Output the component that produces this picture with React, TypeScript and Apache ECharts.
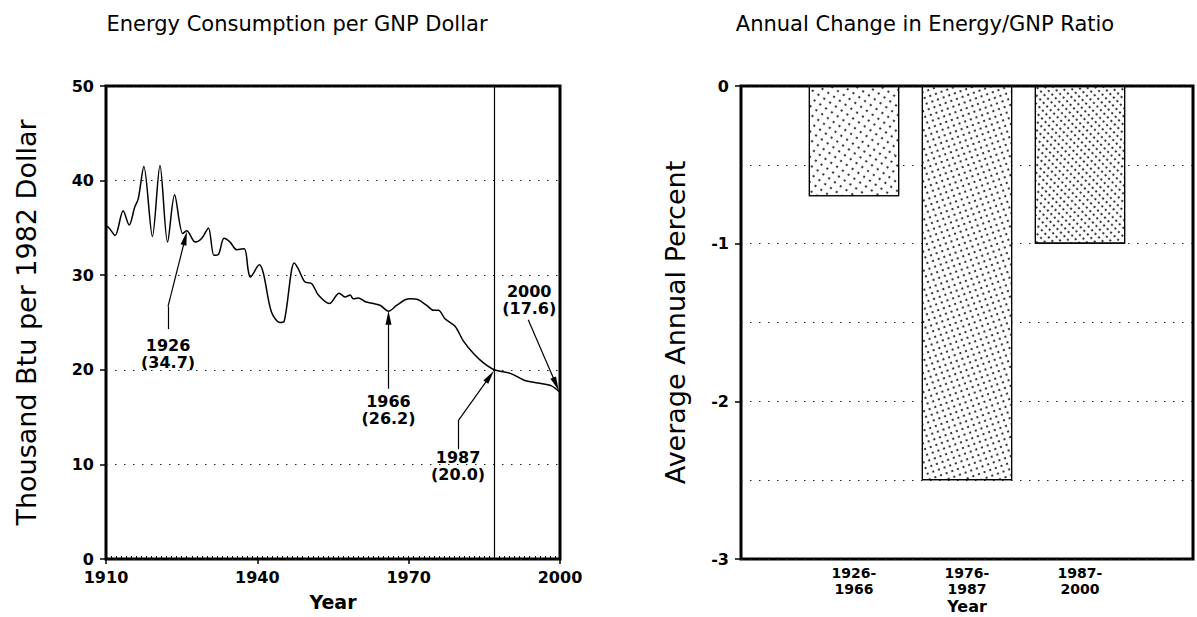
import React, { useEffect, useRef } from "react";
import * as echarts from "echarts";

// ---- Data ----
const years = [
  1910, 1910.6, 1911.8, 1913.4, 1914.6, 1915.7, 1916.4, 1917.5, 1919.2, 1920.7,
  1922.2, 1923.6, 1925.2, 1926, 1927.7, 1929, 1930.3, 1931.4, 1932.3, 1933.4,
  1934.6, 1935.9, 1937.4, 1938.2, 1938.6, 1940.4, 1941.2, 1942.8, 1944.5, 1945.3,
  1947.3, 1948.1, 1949.4, 1950.8, 1952.1, 1954.3, 1956.2, 1957.4, 1958.4, 1959,
  1960, 1961.4, 1963, 1964.4, 1966, 1967.6, 1969.3, 1970.3, 1971.9, 1973.6,
  1974.9, 1975.9, 1977.2, 1979.2, 1980.9, 1982.9, 1984.9, 1987, 1990.3, 1992.9,
  1995.6, 1998.3, 2000,
];
const energyPerGnp = [
  35.2, 35.0, 34.2, 36.8, 35.3, 37.2, 38.1, 41.5, 34.1, 41.6,
  33.5, 38.5, 34.4, 34.7, 33.5, 33.9, 35.0, 32.1, 32.2, 33.9,
  33.5, 32.7, 32.8, 30.5, 29.8, 31.1, 30.2, 26.1, 25.0, 25.1,
  31.3, 30.7, 29.3, 29.1, 27.9, 27.0, 28.1, 27.7, 27.9, 27.5,
  27.6, 27.2, 27.0, 26.8, 26.2, 26.8, 27.4, 27.5, 27.4, 26.8,
  26.3, 26.3, 25.4, 24.6, 23.0, 21.7, 20.7, 20.0, 19.6, 18.9,
  18.6, 18.3, 17.6,
];
const leftXTicks = [1910, 1940, 1970, 2000];
const leftYTicks = [0, 10, 20, 30, 40, 50];

const periods = ["1926-\n1966", "1976-\n1987", "1987-\n2000"];
const annualChange = [-0.7, -2.5, -1.0];
const rightYTicks = [0, -1, -2, -3];

const markerYear = 1987;
const annotationLabels = ["1926\n(34.7)", "1966\n(26.2)", "1987\n(20.0)", "2000\n(17.6)"];

// annotation layout (data coordinates of label centre and arrow path)
const annotationLayout = [
  { label: [1922.3, 21.7], path: [[1922.3, 24.3], [1922.3, 26.7], [1925.7, 33.9]] },
  { label: [1966, 15.7], path: [[1966, 18.0], [1966, 25.5]] },
  { label: [1979.8, 9.8], path: [[1979.8, 11.6], [1979.8, 14.6], [1986.1, 19.3]] },
  { label: [1993.9, 27.4], path: [[1993.7, 25.3], [1999.2, 18.5]] },
];

const FONT = "DejaVu Sans";

const dotted = { color: "#222", width: 1.2, type: [1.5, 7.5] as any };

const decals = [
  { symbol: "circle", symbolSize: 1, dashArrayX: [1.8, 4.6], dashArrayY: [1.8, 4.6], rotation: 0.6, color: "#111" },
  { symbol: "circle", symbolSize: 1, dashArrayX: [1.6, 3.8], dashArrayY: [1.6, 3.8], rotation: -0.35, color: "#111" },
  { symbol: "circle", symbolSize: 1, dashArrayX: [1.6, 2.8], dashArrayY: [1.6, 3.6], rotation: 0.8, color: "#111" },
];

export default function App() {
  const ref = useRef<HTMLDivElement>(null);
  useEffect(() => {
    if (!ref.current) return;
    const chart = echarts.init(ref.current, undefined, { renderer: "svg" });

    const lineData = years.map((y, i) => [y, energyPerGnp[i]]);

    const arrowSegments: any[] = [
      [{ coord: [markerYear, leftYTicks[0]] }, { coord: [markerYear, leftYTicks[leftYTicks.length - 1]] }],
    ];
    annotationLayout.forEach((a) => {
      for (let i = 0; i < a.path.length - 1; i++) {
        const isLast = i === a.path.length - 2;
        arrowSegments.push([
          { coord: a.path[i] },
          isLast
            ? { coord: a.path[i + 1], symbol: "triangle", symbolSize: [6, 14] }
            : { coord: a.path[i + 1] },
        ]);
      }
    });

    const labelPoints = annotationLayout.map((a, i) => ({
      coord: a.label,
      label: { formatter: annotationLabels[i] },
    }));

    const catData = ["", ...periods, ""];
    const barData: any[] = [
      "-",
      ...annualChange.map((v, i) => ({ value: v, itemStyle: { decal: decals[i] } })),
      "-",
    ];

    const axisLabelStyle = { color: "#000", fontFamily: FONT, fontSize: 16, fontWeight: "bold" as const };

    chart.setOption({
      animation: false,
      textStyle: { fontFamily: FONT, color: "#000" },
      title: [
        {
          text: "Energy Consumption per GNP Dollar",
          left: 292, top: 8, textAlign: "center",
          textStyle: { fontFamily: FONT, fontSize: 21, fontWeight: "normal", color: "#000" },
        },
        {
          text: "Annual Change in Energy/GNP Ratio",
          left: 920, top: 8, textAlign: "center",
          textStyle: { fontFamily: FONT, fontSize: 21, fontWeight: "normal", color: "#000" },
        },
      ],
      grid: [
        { left: 106, top: 86, width: 454, height: 473, show: true, borderColor: "#000", borderWidth: 3, backgroundColor: "transparent", outerBoundsMode: "none", containLabel: false },
        { left: 741, top: 86, width: 452, height: 473, show: true, borderColor: "#000", borderWidth: 3, backgroundColor: "transparent", outerBoundsMode: "none", containLabel: false },
        { left: 106, top: 86, width: 454, height: 473, show: false, outerBoundsMode: "none", containLabel: false },
      ],
      xAxis: [
        {
          type: "value", gridIndex: 0,
          min: leftXTicks[0], max: leftXTicks[leftXTicks.length - 1], interval: leftXTicks[1] - leftXTicks[0],
          axisLine: { show: false },
          axisTick: { show: true, length: 5, lineStyle: { color: "#000", width: 1.5 } },
          axisLabel: { ...axisLabelStyle, margin: 10, formatter: (v: number) => String(v) },
          splitLine: { show: false },
          name: "Year", nameLocation: "middle", nameGap: 33,
          nameTextStyle: { fontFamily: FONT, fontSize: 19, fontWeight: "bold", color: "#000" },
        },
        {
          type: "category", gridIndex: 1, data: catData, boundaryGap: false,
          axisLine: { show: false },
          axisTick: { show: true, length: 5, interval: 0, lineStyle: { color: "#000", width: 1.5 } },
          axisLabel: { ...axisLabelStyle, fontSize: 14, interval: 0, margin: 6, lineHeight: 16 },
          splitLine: { show: false },
          name: "Year", nameLocation: "middle", nameGap: 39, nameMoveOverlap: false,
          nameTextStyle: { fontFamily: FONT, fontSize: 16, fontWeight: "bold", color: "#000", lineHeight: 17 },
        },
        {
          type: "value", gridIndex: 2,
          min: leftXTicks[0], max: leftXTicks[leftXTicks.length - 1], interval: 1,
          axisLine: { show: false },
          axisTick: { show: true, inside: true, length: 3, lineStyle: { color: "#000", width: 1 } },
          axisLabel: { show: false },
          splitLine: { show: false },
        },
      ],
      yAxis: [
        {
          type: "value", gridIndex: 0,
          min: leftYTicks[0], max: leftYTicks[leftYTicks.length - 1], interval: leftYTicks[1] - leftYTicks[0],
          axisLine: { show: false },
          axisTick: { show: true, length: 6, lineStyle: { color: "#000", width: 1.5 } },
          axisLabel: { ...axisLabelStyle, margin: 12 },
          splitLine: { show: true, lineStyle: dotted },
          name: "Thousand Btu per 1982 Dollar", nameLocation: "middle", nameGap: 66,
          nameTextStyle: { fontFamily: FONT, fontSize: 27, fontWeight: "normal", color: "#000" },
        },
        {
          type: "value", gridIndex: 1,
          min: rightYTicks[rightYTicks.length - 1], max: rightYTicks[0], interval: 1,
          axisLine: { show: false },
          axisTick: { show: true, length: 6, lineStyle: { color: "#000", width: 1.5 } },
          axisLabel: { ...axisLabelStyle, margin: 12 },
          splitLine: { show: true, lineStyle: dotted },
          minorTick: { show: false, splitNumber: 2 },
          minorSplitLine: { show: true, lineStyle: dotted },
          name: "Average Annual Percent", nameLocation: "middle", nameGap: 52,
          nameTextStyle: { fontFamily: FONT, fontSize: 27, fontWeight: "normal", color: "#000" },
        },
        {
          type: "value", gridIndex: 2, min: 0, max: 50, show: false,
        },
      ],
      series: [
        {
          type: "line", xAxisIndex: 0, yAxisIndex: 0,
          data: lineData, showSymbol: false, smooth: 0.3,
          lineStyle: { color: "#000", width: 1.5 },
          markLine: {
            silent: true, animation: false,
            symbol: ["none", "none"],
            lineStyle: { color: "#000", width: 1.2, type: "solid" },
            itemStyle: { color: "#000" },
            label: { show: false },
            emphasis: { disabled: true },
            data: arrowSegments,
          },
          markPoint: {
            silent: true, animation: false,
            symbol: "circle", symbolSize: 0,
            itemStyle: { color: "transparent" },
            label: {
              show: true, position: "inside", color: "#000",
              fontFamily: FONT, fontSize: 16, fontWeight: "bold", lineHeight: 17,
            },
            data: labelPoints,
          },
        },
        {
          type: "bar", xAxisIndex: 1, yAxisIndex: 1,
          data: barData, barWidth: "80%",
          itemStyle: { color: "#fff", borderColor: "#000", borderWidth: 1.2 },
        },
      ],
    });
    return () => chart.dispose();
  }, []);
  return (
    <div
      ref={ref}
      style={{ position: "fixed", left: 0, top: 0, width: 1197, height: 617, background: "#fff" }}
    />
  );
}
